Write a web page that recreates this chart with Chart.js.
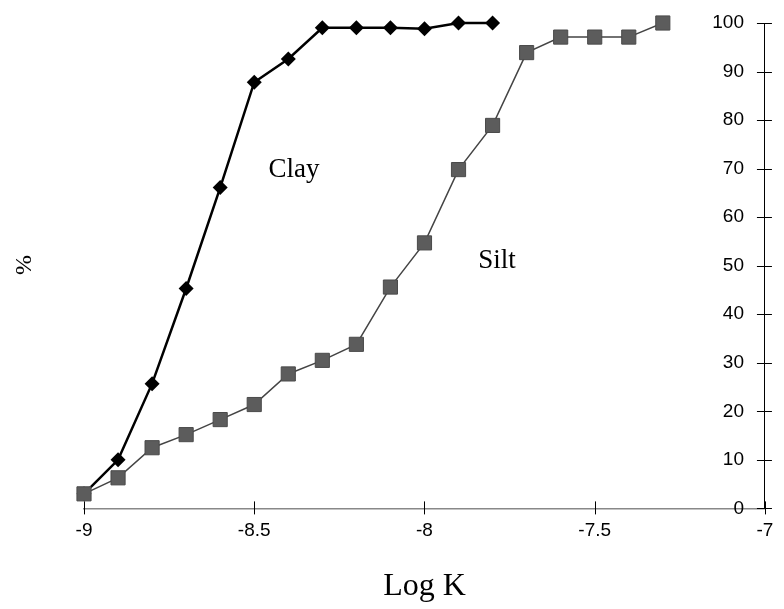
<!DOCTYPE html>
<html>
<head>
<meta charset="utf-8">
<script src="https://cdn.jsdelivr.net/npm/chart.js@4/dist/chart.umd.min.js"></script>
<style>
  html, body { margin: 0; padding: 0; background: #fff; }
  #wrap { width: 784px; height: 609px; }
</style>
</head>
<body>
<div id="wrap"><canvas id="myChart"></canvas></div>
<script>
const clayLogK = [-9, -8.9, -8.8, -8.7, -8.6, -8.5, -8.4, -8.3, -8.2, -8.1, -8.0, -7.9, -7.8];
const clayPct = [3, 10, 25.7, 45.3, 66.1, 87.8, 92.6, 99, 99, 99, 98.8, 100, 100];

const siltLogK = [-9, -8.9, -8.8, -8.7, -8.6, -8.5, -8.4, -8.3, -8.2, -8.1, -8.0, -7.9, -7.8, -7.7, -7.6, -7.5, -7.4, -7.3];
const siltPct = [3, 6.3, 12.5, 15.2, 18.3, 21.4, 27.7, 30.5, 33.8, 45.6, 54.7, 69.8, 78.9, 93.9, 97.1, 97.1, 97.1, 100];

const xTicks = [-9, -8.5, -8, -7.5, -7];
const yTicks = [0, 10, 20, 30, 40, 50, 60, 70, 80, 90, 100];

const ctx = document.getElementById('myChart');

Chart.defaults.color = "#000";
Chart.defaults.font.family = "'Liberation Sans', Arial, sans-serif";

const toPoints = (xs, ys) => xs.map((x, i) => ({ x: x, y: ys[i] }));

// tick marks crossing the axes + free text labels
const extras = {
	id: 'extras',
	afterDraw(chart) {
		const c = chart.ctx;
		const xs = chart.scales.x, ys = chart.scales.y;
		const area = chart.chartArea;
		c.save();
		c.strokeStyle = "#000";
		c.lineWidth = 1;
		xTicks.forEach(v => {
			const px = Math.round(xs.getPixelForValue(v)) + 0.5;
			c.beginPath();
			c.moveTo(px, area.bottom - 7);
			c.lineTo(px, area.bottom + 6);
			c.stroke();
		});
		yTicks.forEach(v => {
			const py = Math.round(ys.getPixelForValue(v)) + 0.5;
			c.beginPath();
			c.moveTo(area.right - 8, py);
			c.lineTo(area.right + 7, py);
			c.stroke();
		});

		c.fillStyle = "#000";
		c.font = "27px 'Liberation Serif', 'Times New Roman', serif";
		c.textAlign = "center";
		c.textBaseline = "alphabetic";
		c.fillText("Clay", 294, 177);
		c.fillText("Silt", 497, 268);

		c.translate(25, 265);
		c.rotate(-Math.PI / 2);
		c.font = "24px 'Liberation Serif', 'Times New Roman', serif";
		c.textBaseline = "middle";
		c.fillText("%", 0, 0);
		c.restore();
	}
};

new Chart(ctx, {
	type: 'scatter',
	data: {
		datasets: [{
			label: 'Silt',
			data: toPoints(siltLogK, siltPct),
			showLine: true,
			borderColor: "#444",
			borderWidth: 1.5,
			backgroundColor: "#5c5c5c",
			pointStyle: 'rect',
			pointRadius: 10,
			pointBorderColor: "#4a4a4a",
			pointBorderWidth: 1,
			order: 0,
			clip: false
		}, {
			label: 'Clay',
			data: toPoints(clayLogK, clayPct),
			showLine: true,
			borderColor: "#000",
			borderWidth: 2.5,
			backgroundColor: "#000",
			pointStyle: 'rectRot',
			pointRadius: 7.5,
			pointBorderWidth: 0,
			order: 1,
			clip: false
		}]
	},
	options: {
		responsive: true,
		maintainAspectRatio: false,
		animation: false,
		events: [],
		layout: {
			padding: { left: 84, right: 15, top: 23, bottom: 3.6 }
		},
		plugins: {
			legend: { display: false },
			tooltip: { enabled: false }
		},
		scales: {
			x: {
				type: 'linear',
				position: 'bottom',
				min: -9,
				max: -7,
				afterBuildTicks: (s) => { s.ticks = xTicks.map(v => ({ value: v })); },
				ticks: {
					font: { size: 19 },
					padding: 10.6,
					callback: (v) => String(v)
				},
				grid: { drawOnChartArea: false, drawTicks: false },
				border: { color: "#888", width: 1.5 },
				title: {
					display: true,
					text: "Log K",
					font: { family: "'Liberation Serif', 'Times New Roman', serif", size: 32 },
					padding: { top: 14.6, bottom: 0 }
				}
			},
			y: {
				type: 'linear',
				position: 'right',
				min: 0,
				max: 100,
				afterBuildTicks: (s) => { s.ticks = yTicks.map(v => ({ value: v })); },
				afterFit: (s) => { s.width = 0; },
				ticks: {
					mirror: true,
					padding: -21,
					font: { size: 19 }
				},
				grid: { drawOnChartArea: false, drawTicks: false },
				border: { color: "#000", width: 1 }
			}
		}
	},
	plugins: [extras]
});
</script>
</body>
</html>
